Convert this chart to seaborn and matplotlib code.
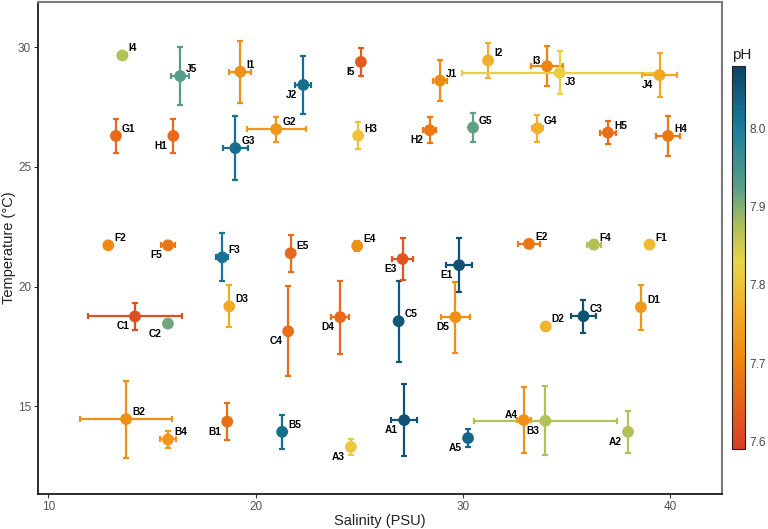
import numpy as np
import pandas as pd
import matplotlib
matplotlib.use("Agg")
import matplotlib.pyplot as plt
import matplotlib.colors as mcolors
import seaborn as sns

# data
site = ["A1", "A2", "A3", "A4", "A5", "B1", "B2", "B3", "B4", "B5",
        "C1", "C2", "C3", "C4", "C5", "D1", "D2", "D3", "D4", "D5",
        "E1", "E2", "E3", "E4", "E5", "F1", "F2", "F3", "F4", "F5",
        "G1", "G2", "G3", "G4", "G5", "H1", "H2", "H3", "H4", "H5",
        "I1", "I2", "I3", "I4", "I5", "J1", "J2", "J3", "J4", "J5"]
salinity = [27.17, 37.97, 24.60, 32.94, 30.25, 18.63, 13.75, 33.98, 15.77, 21.28,
            14.18, 15.77, 35.82, 21.57, 26.90, 38.59, 34.00, 18.73, 24.08, 29.64,
            29.82, 33.19, 27.09, 24.90, 21.69, 39.01, 12.89, 18.39, 36.32, 15.77,
            13.26, 20.99, 19.02, 33.60, 30.49, 16.03, 28.40, 24.95, 39.90, 37.00,
            19.26, 31.22, 34.06, 13.57, 25.08, 28.90, 22.30, 34.67, 39.49, 16.36]
salinity_sd = [0.63, 0.20, 0.20, 0.35, 0.00, 0.00, 2.21, 3.44, 0.38, 0.00,
               2.27, 0.00, 0.59, 0.00, 0.15, 0.00, 0.00, 0.00, 0.44, 0.70,
               0.61, 0.55, 0.49, 0.00, 0.20, 0.15, 0.00, 0.30, 0.35, 0.35,
               0.10, 1.42, 0.60, 0.25, 0.00, 0.00, 0.30, 0.15, 0.58, 0.40,
               0.53, 0.15, 0.76, 0.20, 0.00, 0.35, 0.38, 4.72, 0.83, 0.42]
temperature = [14.42, 13.93, 13.30, 14.42, 13.67, 14.36, 14.46, 14.39, 13.61, 13.93,
               18.75, 18.45, 18.76, 18.13, 18.55, 19.14, 18.33, 19.17, 18.72, 18.72,
               20.89, 21.78, 21.15, 21.69, 21.39, 21.75, 21.72, 21.22, 21.75, 21.72,
               26.29, 26.57, 25.78, 26.61, 26.64, 26.29, 26.53, 26.30, 26.29, 26.43,
               28.97, 29.44, 29.20, 29.65, 29.38, 28.60, 28.42, 28.93, 28.83, 28.79]
temperature_sd = [1.52, 0.87, 0.35, 1.38, 0.36, 0.77, 1.61, 1.44, 0.35, 0.70,
                  0.58, 0.00, 0.69, 1.88, 1.70, 0.94, 0.00, 0.88, 1.53, 1.48,
                  1.14, 0.10, 0.89, 0.20, 0.78, 0.15, 0.00, 1.00, 0.20, 0.10,
                  0.72, 0.52, 1.33, 0.57, 0.62, 0.70, 0.54, 0.57, 0.85, 0.48,
                  1.30, 0.75, 0.83, 0.12, 0.60, 0.86, 1.21, 0.89, 0.92, 1.23]
ph = [8.06, 7.87, 7.81, 7.72, 8.03, 7.67, 7.72, 7.87, 7.73, 8.02,
      7.62, 7.91, 8.06, 7.67, 8.05, 7.73, 7.78, 7.76, 7.66, 7.72,
      8.06, 7.68, 7.63, 7.72, 7.66, 7.79, 7.71, 8.01, 7.87, 7.68,
      7.66, 7.73, 8.02, 7.77, 7.92, 7.66, 7.68, 7.80, 7.68, 7.67,
      7.72, 7.77, 7.70, 7.87, 7.64, 7.71, 8.02, 7.82, 7.76, 7.93]
ph_ticks = [7.6, 7.7, 7.8, 7.9, 8.0]

# where each site label sits relative to its point
label_side = {"H1": "dl", "J2": "dl", "I5": "dl", "H2": "dl", "J4": "dl", "F5": "dl",
              "C1": "dl", "C2": "dl", "C4": "dl", "E3": "dl", "E1": "dl", "D4": "dl",
              "D5": "dl", "B1": "dl", "A3": "dl", "A1": "dl", "A5": "dl", "B3": "dl",
              "A2": "dl", "I3": "ul", "A4": "ul", "J3": "dr"}

df = pd.DataFrame({"site": site, "salinity": salinity, "sal_sd": salinity_sd,
                   "temp": temperature, "temp_sd": temperature_sd, "ph": ph})

cmap = mcolors.LinearSegmentedColormap.from_list("ph", [
    (0.00, "#d83c28"), (0.12, "#e5621c"), (0.23, "#ee860f"), (0.36, "#f2ac28"),
    (0.49, "#ead548"), (0.59, "#a9bd5c"), (0.68, "#5b9f86"), (0.84, "#1a7c9c"),
    (1.00, "#0b4466")])
norm = mcolors.Normalize(7.59, 8.08)

sns.set_style("white")
plt.rcParams["font.family"] = ["Liberation Sans", "DejaVu Sans"]

fig = plt.figure(figsize=(7.68, 5.29), dpi=100)
ax = fig.add_axes([0.0495, 0.066, 0.8905, 0.931])

for _, r in df.iterrows():
    c = cmap(norm(r.ph))
    ax.errorbar(r.salinity, r.temp,
                xerr=r.sal_sd if r.sal_sd > 0 else None,
                yerr=r.temp_sd if r.temp_sd > 0 else None,
                fmt="none", ecolor=c, elinewidth=1.6, capsize=2.2, capthick=1.6,
                zorder=2)

sns.scatterplot(data=df, x="salinity", y="temp", hue="ph", palette=cmap,
                hue_norm=norm, s=72, linewidth=0, legend=False, ax=ax, zorder=3)

offsets = {"ur": ((6, 4), "left", "baseline"), "dl": ((-6, -5), "right", "top"),
           "ul": ((-6, 2), "right", "baseline"), "dr": ((5, -4), "left", "top")}
for _, r in df.iterrows():
    off, ha, va = offsets[label_side.get(r.site, "ur")]
    ax.annotate(r.site, (r.salinity, r.temp), xytext=off, textcoords="offset pixels",
                ha=ha, va=va, fontsize=7.3, fontweight="bold", color="black", zorder=4)

ax.set_xlim(9.5, 42.5)
ax.set_ylim(11.33, 31.9)
ax.set_xticks([10, 20, 30, 40])
ax.set_yticks([15, 20, 25, 30])
ax.set_xlabel("Salinity (PSU)", fontsize=10.5, color="#222222", labelpad=1)
ax.set_ylabel("Temperature (°C)", fontsize=10.5, color="#222222", labelpad=1)
ax.tick_params(axis="both", labelsize=8.5, labelcolor="#555555", length=3,
               width=0.8, color="#333333", direction="out", bottom=True, left=True,
               pad=2)
for s in ["left", "bottom"]:
    ax.spines[s].set_color("#1a1a1a")
    ax.spines[s].set_linewidth(1.3)
for s in ["top", "right"]:
    ax.spines[s].set_color("#7a7a7a")
    ax.spines[s].set_linewidth(1.5)

cax = fig.add_axes([0.953, 0.151, 0.017, 0.724])
sm = plt.cm.ScalarMappable(norm=norm, cmap=cmap)
cb = fig.colorbar(sm, cax=cax, ticks=ph_ticks)
cb.ax.set_yticklabels([f"{t:.1f}" for t in ph_ticks])
cb.ax.tick_params(labelsize=8.5, labelcolor="#444444", length=3, width=0.8,
                  direction="in", color="#333333")
cb.outline.set_linewidth(0.8)
cb.outline.set_edgecolor("#222222")
cax.set_title("pH", fontsize=11, color="#222222", loc="left", pad=5)

fig.savefig("out.png", dpi=100)
